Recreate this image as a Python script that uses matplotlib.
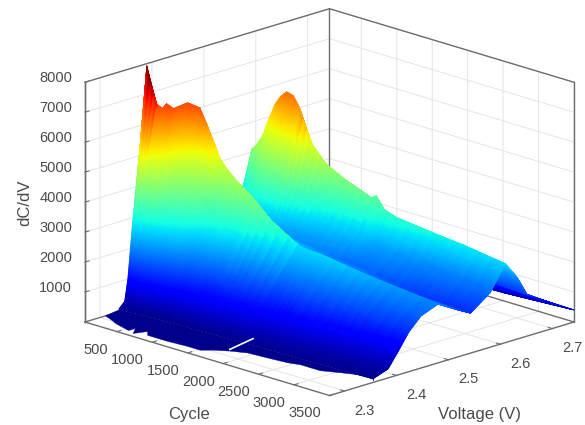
import matplotlib
matplotlib.use("Agg")
import matplotlib.pyplot as plt
import numpy as np
from mpl_toolkits.mplot3d import proj3d
from mpl_toolkits.mplot3d.art3d import Poly3DCollection

plt.rcParams["font.family"] = ["Liberation Sans", "DejaVu Sans"]

# cycle of every section
cycles = [60, 102, 154, 205, 240, 285, 326, 395, 464, 550, 637, 726, 861, 1085,
          1326, 1696, 1765, 1844, 2034, 2520, 2924, 3500]

# each row: foot, 4 flank points, crest 1, shoulder, saddle, rise, crest 2, 3 fall points, end
voltage = [
    [2.335, 2.346, 2.352, 2.362, 2.374, 2.381, 2.400, 2.525, 2.575, 2.591, 2.612, 2.632, 2.680, 2.742],
    [2.335, 2.346, 2.352, 2.361, 2.372, 2.383, 2.395, 2.525, 2.568, 2.589, 2.612, 2.631, 2.680, 2.742],
    [2.335, 2.347, 2.353, 2.362, 2.378, 2.394, 2.410, 2.525, 2.566, 2.590, 2.613, 2.632, 2.681, 2.742],
    [2.336, 2.347, 2.353, 2.363, 2.380, 2.399, 2.418, 2.526, 2.565, 2.590, 2.613, 2.632, 2.681, 2.742],
    [2.336, 2.348, 2.353, 2.363, 2.384, 2.402, 2.425, 2.526, 2.564, 2.590, 2.613, 2.632, 2.681, 2.742],
    [2.337, 2.348, 2.355, 2.368, 2.392, 2.409, 2.435, 2.527, 2.564, 2.590, 2.613, 2.632, 2.682, 2.742],
    [2.338, 2.349, 2.356, 2.372, 2.410, 2.431, 2.455, 2.528, 2.564, 2.590, 2.613, 2.632, 2.682, 2.742],
    [2.339, 2.350, 2.358, 2.376, 2.425, 2.445, 2.468, 2.528, 2.564, 2.590, 2.613, 2.632, 2.682, 2.742],
    [2.339, 2.350, 2.360, 2.383, 2.437, 2.449, 2.472, 2.529, 2.565, 2.591, 2.614, 2.633, 2.683, 2.742],
    [2.340, 2.351, 2.362, 2.388, 2.436, 2.450, 2.472, 2.529, 2.565, 2.591, 2.614, 2.633, 2.683, 2.742],
    [2.341, 2.352, 2.364, 2.400, 2.436, 2.450, 2.473, 2.530, 2.566, 2.592, 2.615, 2.634, 2.684, 2.742],
    [2.342, 2.353, 2.366, 2.408, 2.436, 2.451, 2.474, 2.530, 2.566, 2.592, 2.615, 2.634, 2.684, 2.742],
    [2.342, 2.354, 2.368, 2.415, 2.437, 2.451, 2.474, 2.531, 2.567, 2.593, 2.616, 2.635, 2.685, 2.742],
    [2.343, 2.356, 2.372, 2.424, 2.441, 2.453, 2.476, 2.532, 2.568, 2.594, 2.617, 2.636, 2.686, 2.742],
    [2.345, 2.358, 2.376, 2.430, 2.445, 2.455, 2.480, 2.533, 2.570, 2.596, 2.619, 2.638, 2.688, 2.742],
    [2.347, 2.361, 2.385, 2.425, 2.445, 2.456, 2.483, 2.535, 2.572, 2.598, 2.621, 2.640, 2.690, 2.742],
    [2.347, 2.362, 2.386, 2.425, 2.445, 2.456, 2.484, 2.535, 2.572, 2.598, 2.621, 2.640, 2.690, 2.742],
    [2.348, 2.363, 2.388, 2.425, 2.445, 2.456, 2.485, 2.536, 2.573, 2.599, 2.622, 2.641, 2.691, 2.742],
    [2.349, 2.366, 2.392, 2.425, 2.445, 2.457, 2.487, 2.537, 2.574, 2.600, 2.623, 2.642, 2.692, 2.742],
    [2.351, 2.372, 2.395, 2.428, 2.450, 2.465, 2.495, 2.540, 2.578, 2.605, 2.628, 2.647, 2.697, 2.742],
    [2.353, 2.378, 2.400, 2.427, 2.455, 2.472, 2.507, 2.541, 2.579, 2.607, 2.630, 2.649, 2.699, 2.742],
    [2.355, 2.384, 2.403, 2.424, 2.447, 2.480, 2.518, 2.543, 2.581, 2.610, 2.633, 2.652, 2.702, 2.742],
]
dcdv = [
    [100, 300, 1000, 3000, 5000, 6000, 5000, 2100, 3000, 4130, 3200, 2100, 700, 250],
    [120, 300, 1000, 3000, 5800, 8000, 6500, 2100, 2900, 4190, 3270, 2180, 750, 250],
    [120, 320, 1000, 3000, 5200, 6720, 5900, 2100, 3100, 4400, 3430, 2290, 780, 260],
    [120, 330, 1000, 3000, 5100, 6570, 5800, 2100, 3200, 4600, 3590, 2390, 800, 260],
    [120, 330, 1000, 3000, 5000, 6740, 5800, 2100, 3350, 4800, 3740, 2500, 820, 260],
    [120, 330, 1000, 3000, 5000, 6570, 5600, 2100, 3600, 5150, 4020, 2680, 850, 260],
    [120, 330, 1000, 3000, 5000, 6680, 5200, 2100, 3780, 5400, 4210, 2810, 870, 260],
    [120, 330, 1000, 3000, 5000, 6490, 4800, 2100, 4100, 5850, 4560, 3040, 900, 270],
    [120, 330, 1000, 3000, 5000, 5980, 4300, 2100, 4300, 6150, 4800, 3200, 920, 270],
    [120, 330, 1000, 3000, 4600, 5480, 3900, 2100, 4460, 6370, 4970, 3310, 950, 270],
    [120, 330, 1000, 3000, 4200, 4975, 3500, 2100, 4400, 6300, 4910, 3280, 940, 270],
    [120, 330, 1000, 3000, 3950, 4680, 3300, 2100, 4170, 5960, 4650, 3100, 900, 270],
    [120, 330, 1000, 3000, 3700, 4380, 3100, 2100, 3460, 4950, 3860, 2570, 820, 280],
    [120, 330, 1000, 2900, 3500, 3950, 2900, 2100, 3030, 4330, 3380, 2250, 760, 280],
    [120, 330, 1000, 2500, 3000, 3350, 2600, 2050, 2800, 4000, 3120, 2080, 720, 290],
    [120, 320, 1000, 2050, 2500, 2780, 2300, 1900, 2530, 3620, 2820, 1880, 700, 300],
    [120, 320, 1000, 2040, 2480, 2730, 2280, 1900, 2610, 3730, 2900, 1900, 700, 300],
    [120, 320, 1000, 2030, 2470, 2715, 2260, 1850, 2350, 3360, 2620, 1750, 700, 300],
    [120, 310, 1000, 1900, 2400, 2680, 2200, 1800, 2230, 3190, 2490, 1660, 750, 250],
    [120, 300, 900, 1750, 2200, 2400, 1950, 1550, 2090, 2990, 2330, 1550, 800, 270],
    [120, 300, 830, 1530, 1950, 2200, 1750, 1400, 2000, 2870, 2240, 1500, 880, 320],
    [120, 300, 770, 1320, 1730, 1960, 1570, 1330, 1820, 2630, 2050, 1380, 830, 400],
]

# ragged low edge of the surface in front of the first flank
edge_cycle = [76, 240, 331, 583, 586, 686, 742, 833, 1111, 1368, 1551, 1644, 1785,
              1953, 2208, 2463, 2601, 2880, 3069, 3233, 3409, 3500]
edge_voltage = [2.306, 2.297, 2.291, 2.281, 2.294, 2.276, 2.296, 2.284, 2.284, 2.287, 2.287,
                2.300, 2.313, 2.324, 2.327, 2.331, 2.337, 2.337, 2.350, 2.360, 2.365, 2.355]
edge_level = 60

# the thin white scratch through the dark base
scratch_cycle = [1785, 1696]
scratch_voltage = [2.313, 2.370]
scratch_level = [100, 100]

cycle_ticks = [500, 1000, 1500, 2000, 2500, 3000, 3500]
voltage_ticks = [2.3, 2.4, 2.5, 2.6, 2.7]
dcdv_ticks = [1000, 2000, 3000, 4000, 5000, 6000, 7000, 8000]

cycle_lim = (50, 3500)
voltage_lim = (2.271, 2.742)
dcdv_lim = (0, 8000)


def split_facets(table, n_rows, n_cols):
    # same as MATLAB "shading interp": each facet is cut up for the colour only, it stays flat
    table = np.asarray(table, dtype=float)
    rows = np.arange(table.shape[0])
    cols = np.arange(table.shape[1])
    fine_rows = np.linspace(0, rows[-1], rows[-1] * n_rows + 1)
    fine_cols = np.linspace(0, cols[-1], cols[-1] * n_cols + 1)
    out = np.array([np.interp(fine_cols, cols, r) for r in table])
    return np.array([np.interp(fine_rows, rows, c) for c in out.T]).T


cycle_grid = np.tile(np.array(cycles, dtype=float)[:, None], (1, len(voltage[0])))
X = split_facets(cycle_grid, 3, 32)
Y = split_facets(voltage, 3, 32)
Z = split_facets(dcdv, 3, 32)

fig = plt.figure(figsize=(5.85, 4.25), dpi=100)
ax = fig.add_axes((0.05, 0.05, 0.9, 0.9), projection="3d")
ax.computed_zorder = False
ax.set_proj_type("ortho")
ax.view_init(elev=17.5, azim=-45)
ax.set_box_aspect((1, 1, 0.727))

colors = plt.cm.jet(plt.Normalize(*dcdv_lim)(Z))
ax.plot_surface(X, Y, Z, facecolors=colors, rstride=1, cstride=1, shade=False,
                linewidth=0.5, zorder=3)

# strip between the ragged edge and the first table column
foot_v = [row[0] for row in voltage]
foot_z = [row[0] for row in dcdv]
strip = list(zip(edge_cycle, edge_voltage, [edge_level] * len(edge_cycle)))
strip += list(zip(cycles[::-1], foot_v[::-1], foot_z[::-1]))
strip_color = plt.cm.jet(plt.Normalize(*dcdv_lim)(120))
ax.add_collection3d(Poly3DCollection([strip], facecolors=strip_color,
                                     edgecolors=strip_color, linewidths=0.3, zorder=4))
ax.plot(scratch_cycle, scratch_voltage, scratch_level, color="white", lw=1.2, zorder=5)

ax.set_xlim(*cycle_lim)
ax.set_ylim(*voltage_lim)
ax.set_zlim(*dcdv_lim)
ax.set_xticks(cycle_ticks)
ax.set_yticks(voltage_ticks)
ax.set_zticks(dcdv_ticks)
ax.set_xticklabels([str(c) for c in cycle_ticks], ha="right", va="top")
ax.set_yticklabels([f"{v:.1f}" for v in voltage_ticks], ha="left", va="top")
ax.set_zticklabels([str(d) for d in dcdv_ticks], va="baseline")

box_color = "#6e6e6e"
for axis in (ax.xaxis, ax.yaxis, ax.zaxis):
    axis.set_pane_color((1, 1, 1, 1))
    axis.pane.set_edgecolor((1, 1, 1, 0))
    axis.line.set_color(box_color)
    axis.line.set_linewidth(1.0)
    axis._axinfo["grid"].update(color="#e4e4e4", linewidth=0.7)
    axis._axinfo["tick"].update(inward_factor=0.0, outward_factor=0.2, linewidth={True: 0.8, False: 0.5})
ax.zaxis.set_ticks_position("lower")
ax.tick_params(axis="both", labelsize=10.5, labelcolor="#4a4a4a", color=box_color)
ax.tick_params(axis="x", pad=-1)
ax.tick_params(axis="y", pad=0)
ax.tick_params(axis="z", pad=4)

# box edges that the 3D axes do not draw themselves
c0, c1 = cycle_lim
v0, v1 = voltage_lim
z0, z1 = dcdv_lim
edges = [
    ([c0, c0], [v0, v1], [z1, z1]),
    ([c0, c1], [v1, v1], [z1, z1]),
    ([c0, c0], [v0, v0], [z0, z1]),
    ([c0, c0], [v1, v1], [z0, z1]),
    ([c1, c1], [v1, v1], [z0, z1]),
    ([c0, c0], [v0, v1], [z0, z0]),
    ([c0, c1], [v1, v1], [z0, z0]),
]
for xs, ys, zs in edges:
    ax.plot(xs, ys, zs, color=box_color, lw=1.0, zorder=2)

fig.text(25 / 585, 1 - 203 / 425, "dC/dV", rotation=90, fontsize=12, color="#4a4a4a",
         ha="center", va="center")
fig.text(189 / 585, 1 - 415 / 425, "Cycle", fontsize=12, color="#4a4a4a", ha="center", va="center")
fig.text(479 / 585, 1 - 415 / 425, "Voltage (V)", fontsize=12, color="#4a4a4a", ha="center", va="center")


def corner_px(x, y, z):
    xs, ys, _ = proj3d.proj_transform(x, y, z, ax.get_proj())
    return ax.transData.transform((xs, ys))


# place the box on the picture: left corner at (85, 322), right corner at (574, 322)
for _ in range(3):
    fig.canvas.draw()
    left = corner_px(c0, v0, z0)
    right = corner_px(c1, v1, z0)
    pos = ax.get_position()
    scale = 489 / (right[0] - left[0])
    w, h = pos.width * scale, pos.height * scale
    dx = (85 - left[0] * scale) / 585
    dy = (103 - left[1] * scale) / 425
    ax.set_position((pos.x0 * scale + dx, pos.y0 * scale + dy, w, h))

fig.savefig("out.png", dpi=100)
